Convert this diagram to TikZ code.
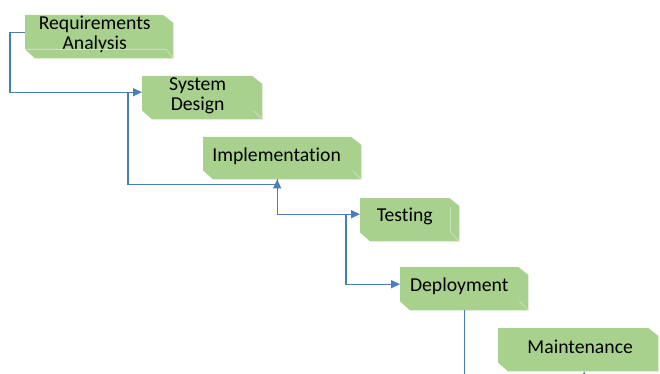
\documentclass[tikz,border=0pt]{standalone}
\usepackage{fontspec}
\setmainfont{Carlito}[Ligatures=NoCommon]
\usetikzlibrary{arrows.meta,backgrounds}

\definecolor{stagegreen}{RGB}{169,209,142}
\definecolor{bevelgreen}{RGB}{200,226,184}
\definecolor{flowblue}{RGB}{74,126,187}

\tikzset{
	stage/.style={rectangle, draw=none, inner sep=0pt, anchor=north west},
	caption/.style={font=\fontsize{19.7}{20}\selectfont, align=center, inner sep=0pt},
	flow/.style={draw=flowblue, line width=1.2pt, -{Triangle[length=9pt,width=8pt]}},
	bevel/.style={draw=bevelgreen, line width=0.8pt}
}

\begin{document}
\begin{tikzpicture}[x=1pt,y=-1pt]

	\useasboundingbox (0,0) rectangle (660,374);

		\node[stage, minimum width=148pt, minimum height=43pt,
			label={[caption,xshift=-4.5pt,yshift=2.5pt]center:{Requirements\\Analysis}}]
			(req) at (25,15) {};
		\node[stage, minimum width=120pt, minimum height=43pt,
			label={[caption,xshift=-4.5pt,yshift=1.5pt]center:{System\\Design}}]
			(design) at (142,76) {};
		\node[stage, minimum width=158pt, minimum height=42pt,
			label={[caption,xshift=-5.5pt,yshift=2pt]center:Implementation}]
			(impl) at (203,137) {};
		\node[stage, minimum width=99pt, minimum height=43pt,
			label={[caption,xshift=-5pt,yshift=3pt]center:Testing}]
			(test) at (360,198) {};
		\node[stage, minimum width=128pt, minimum height=43pt,
			label={[caption,xshift=-5pt,yshift=2.5pt]center:Deployment}]
			(deploy) at (400,267) {};
		\node[stage, minimum width=160pt, minimum height=43pt,
			label={[caption,xshift=2pt,yshift=3pt]center:Maintenance}]
			(maint) at (498,328) {};

		% snipped green plates behind the text
		\begin{scope}[on background layer]
		\foreach \s in {req,design,impl,test,deploy,maint}
			\fill[stagegreen] (\s.north west) -- ([xshift=-10pt]\s.north east)
				-- ([yshift=-8pt]\s.north east) -- (\s.south east)
				-- ([xshift=10pt]\s.south west) -- ([yshift=9pt]\s.south west) -- cycle;
		\end{scope}

		% faint bevel edges
		\path[bevel] ([yshift=9pt]req.south west) -- ([xshift=-7pt,yshift=9pt]req.south east) -- (req.south east);
		\path[bevel] ([xshift=-9pt,yshift=9pt]design.south east) -- (design.south east);
		\path[bevel] ([xshift=-9pt,yshift=9pt]impl.south east) -- (impl.south east);
		\path[bevel] ([xshift=-9pt,yshift=-9pt]test.north east) -- ([xshift=-9pt,yshift=9pt]test.south east) -- (test.south east);
		\path[bevel] ([xshift=-9pt,yshift=9pt]deploy.south east) -- (deploy.south east);

		% connectors
		\path[flow] ([yshift=4.5pt]req.west) -- ++(-15,0) |- ([yshift=5.5pt]design.west);
		\path[flow] ([xshift=-14pt,yshift=5.5pt]design.west) -- ++(0,92) -| ([xshift=-5pt]impl.south);
		\path[flow] ([xshift=-5pt]impl.south) |- ([yshift=5.5pt]test.west);
		\path[flow] ([xshift=-14pt,yshift=5.5pt]test.west) |- ([yshift=4.5pt]deploy.west);
		\path[flow] (deploy.south) -- ++(0,90) -| ([xshift=6pt]maint.south);

\end{tikzpicture}
\end{document}
